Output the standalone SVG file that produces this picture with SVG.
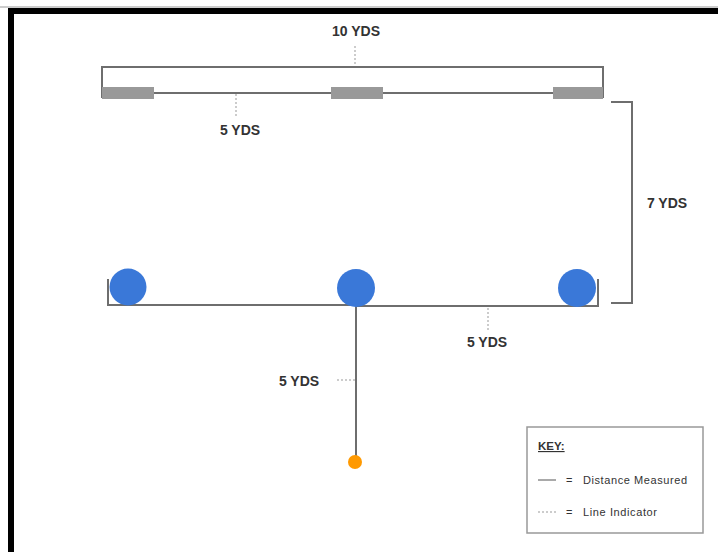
<svg xmlns="http://www.w3.org/2000/svg" width="718" height="552" viewBox="0 0 718 552">
<style>
.lbl{font-family:"Liberation Sans",Arial,sans-serif;font-weight:bold;font-size:14px;fill:#333}
.ln{stroke:#6e6e6e;stroke-width:2;fill:none}
.dot{stroke:#999;stroke-width:1;stroke-dasharray:2,2;fill:none}
.cone{fill:#999}
.player{fill:#3a78d8}
.key{font-family:"Liberation Sans",Arial,sans-serif;font-size:11px;fill:#333}
</style>
<rect x="0" y="0" width="718" height="552" fill="#fff"/>
<g id="frame">
<line x1="0" y1="7" x2="718" y2="7" stroke="#999" stroke-width="1"/>
<rect x="8" y="8" width="710" height="6" fill="#000"/>
<rect x="8" y="8" width="6" height="544" fill="#000"/>
</g>
<g id="connectors">
<path class="ln" d="M102,98 V67 H603 V98"/>
<line class="ln" x1="154" y1="93" x2="553" y2="93"/>
<line class="dot" x1="355" y1="46" x2="355" y2="66"/>
<line class="dot" x1="236" y1="94" x2="236" y2="116"/>
<path class="ln" d="M611,102 H632 V303 H611"/>
<path class="ln" d="M108,279 V305 H356 V306 H598 V279"/>
<line class="dot" x1="488" y1="308" x2="488" y2="330"/>
<line class="ln" x1="356" y1="305" x2="356" y2="462"/>
<line class="dot" x1="337" y1="380" x2="355" y2="380"/>
</g>
<g id="cone-left"><rect class="cone" x="102" y="87" width="52" height="12"/></g>
<g id="cone-mid"><rect class="cone" x="331" y="87" width="52" height="12"/></g>
<g id="cone-right"><rect class="cone" x="553" y="87" width="50" height="12"/></g>
<g id="player-left"><circle class="player" cx="128" cy="287" r="18.5"/></g>
<g id="player-mid"><circle class="player" cx="356" cy="288" r="19"/></g>
<g id="player-right"><circle class="player" cx="577" cy="288" r="19"/></g>
<g id="ball"><circle cx="355" cy="462" r="7" fill="#ff9900"/></g>
<g id="labels">
<text class="lbl" x="356" y="36" text-anchor="middle">10 YDS</text>
<text class="lbl" x="240" y="135" text-anchor="middle">5 YDS</text>
<text class="lbl" x="667" y="208" text-anchor="middle">7 YDS</text>
<text class="lbl" x="487" y="347" text-anchor="middle">5 YDS</text>
<text class="lbl" x="299" y="386" text-anchor="middle">5 YDS</text>
</g>
<g id="key">
<rect x="527" y="427" width="176" height="106" fill="#fff" stroke="#999" stroke-width="1.5"/>
<text x="538" y="450" font-family="'Liberation Sans',Arial,sans-serif" font-size="11.5" font-weight="bold" fill="#333" text-decoration="underline">KEY:</text>
<line x1="538" y1="480" x2="556" y2="480" stroke="#555" stroke-width="1"/>
<text class="key" x="566" y="484">=</text>
<text class="key" x="583" y="484" textLength="104" lengthAdjust="spacing">Distance Measured</text>
<line class="dot" x1="538" y1="512" x2="556" y2="512"/>
<text class="key" x="566" y="516">=</text>
<text class="key" x="583" y="516" textLength="74" lengthAdjust="spacing">Line Indicator</text>
</g>
</svg>
